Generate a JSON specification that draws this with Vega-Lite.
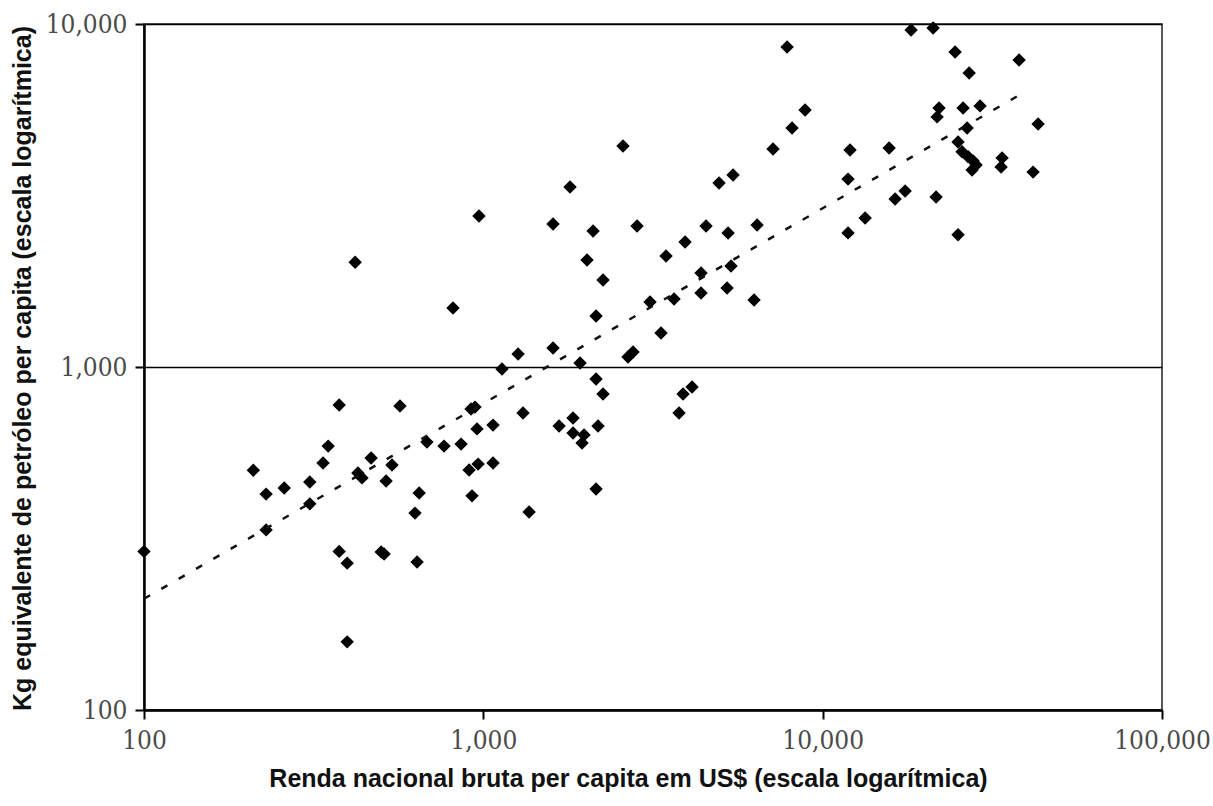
{
  "$schema": "https://vega.github.io/schema/vega-lite/v6.json",
  "width": 1018,
  "height": 686,
  "autosize": "none",
  "padding": {"left": 144, "top": 24, "right": 51, "bottom": 96},
  "background": "white",
  "config": {
    "view": {"stroke": "#222222", "strokeWidth": 1.5},
    "axis": {
      "labelFont": "DejaVu Serif Condensed, DejaVu Serif",
      "labelFontSize": 26,
      "labelColor": "#4a4a4a",
      "titleFont": "Liberation Sans",
      "titleFontWeight": "bold",
      "titleFontSize": 25,
      "titleColor": "#111111",
      "domainColor": "#000000",
      "domainWidth": 2.5,
      "tickColor": "#000000",
      "tickWidth": 2,
      "tickSize": 9,
      "labelFlush": false,
      "labelOverlap": false
    }
  },
  "layer": [
    {
      "data": {
        "values": [
          {"gni": 100, "energy": 290},
          {"gni": 210, "energy": 500},
          {"gni": 229, "energy": 426},
          {"gni": 229, "energy": 335},
          {"gni": 259, "energy": 444},
          {"gni": 308, "energy": 462},
          {"gni": 308, "energy": 399},
          {"gni": 337, "energy": 525},
          {"gni": 349, "energy": 588},
          {"gni": 376, "energy": 775},
          {"gni": 376, "energy": 290},
          {"gni": 397, "energy": 268},
          {"gni": 397, "energy": 158},
          {"gni": 419, "energy": 2020},
          {"gni": 427, "energy": 491},
          {"gni": 439, "energy": 475},
          {"gni": 467, "energy": 543},
          {"gni": 500, "energy": 289},
          {"gni": 510, "energy": 285},
          {"gni": 517, "energy": 465},
          {"gni": 538, "energy": 518},
          {"gni": 568, "energy": 770},
          {"gni": 629, "energy": 375},
          {"gni": 647, "energy": 429},
          {"gni": 638, "energy": 270},
          {"gni": 682, "energy": 604},
          {"gni": 766, "energy": 588},
          {"gni": 860, "energy": 596},
          {"gni": 814, "energy": 1486},
          {"gni": 908, "energy": 501},
          {"gni": 965, "energy": 521},
          {"gni": 926, "energy": 421},
          {"gni": 920, "energy": 754},
          {"gni": 945, "energy": 764},
          {"gni": 958, "energy": 660},
          {"gni": 1068, "energy": 677},
          {"gni": 1068, "energy": 525},
          {"gni": 971, "energy": 2755},
          {"gni": 1135, "energy": 987},
          {"gni": 1266, "energy": 1091},
          {"gni": 1309, "energy": 734},
          {"gni": 1364, "energy": 378},
          {"gni": 1605, "energy": 1136},
          {"gni": 1605, "energy": 2612},
          {"gni": 1672, "energy": 673},
          {"gni": 1801, "energy": 3348},
          {"gni": 1838, "energy": 710},
          {"gni": 1838, "energy": 642},
          {"gni": 1981, "energy": 634},
          {"gni": 1954, "energy": 600},
          {"gni": 1928, "energy": 1027},
          {"gni": 2021, "energy": 2051},
          {"gni": 2106, "energy": 2492},
          {"gni": 2149, "energy": 1408},
          {"gni": 2149, "energy": 923},
          {"gni": 2178, "energy": 673},
          {"gni": 2149, "energy": 441},
          {"gni": 2253, "energy": 834},
          {"gni": 2253, "energy": 1793},
          {"gni": 2580, "energy": 4410},
          {"gni": 2669, "energy": 1070},
          {"gni": 2762, "energy": 1106},
          {"gni": 2838, "energy": 2577},
          {"gni": 3099, "energy": 1547},
          {"gni": 3339, "energy": 1256},
          {"gni": 3455, "energy": 2107},
          {"gni": 3648, "energy": 1579},
          {"gni": 3774, "energy": 734},
          {"gni": 3878, "energy": 834},
          {"gni": 4122, "energy": 874},
          {"gni": 3931, "energy": 2314},
          {"gni": 4381, "energy": 1879},
          {"gni": 4381, "energy": 1643},
          {"gni": 4533, "energy": 2577},
          {"gni": 4951, "energy": 3439},
          {"gni": 5444, "energy": 3628},
          {"gni": 5228, "energy": 1699},
          {"gni": 5370, "energy": 1970},
          {"gni": 5264, "energy": 2459},
          {"gni": 6278, "energy": 1568},
          {"gni": 6408, "energy": 2594},
          {"gni": 7140, "energy": 4321},
          {"gni": 7855, "energy": 8570},
          {"gni": 8124, "energy": 4975},
          {"gni": 8874, "energy": 5614},
          {"gni": 11880, "energy": 2460},
          {"gni": 11880, "energy": 3530},
          {"gni": 12040, "energy": 4290},
          {"gni": 13340, "energy": 2720},
          {"gni": 15700, "energy": 4350},
          {"gni": 16350, "energy": 3090},
          {"gni": 17500, "energy": 3260},
          {"gni": 18220, "energy": 9600},
          {"gni": 21160, "energy": 9740},
          {"gni": 21590, "energy": 3130},
          {"gni": 21740, "energy": 5360},
          {"gni": 22030, "energy": 5690},
          {"gni": 24560, "energy": 8290},
          {"gni": 25060, "energy": 2430},
          {"gni": 25060, "energy": 4530},
          {"gni": 25930, "energy": 5690},
          {"gni": 25750, "energy": 4240},
          {"gni": 26650, "energy": 4975},
          {"gni": 26830, "energy": 4100},
          {"gni": 27020, "energy": 7200},
          {"gni": 27750, "energy": 3990},
          {"gni": 28320, "energy": 3880},
          {"gni": 27560, "energy": 3750},
          {"gni": 29100, "energy": 5770},
          {"gni": 33790, "energy": 4070},
          {"gni": 33560, "energy": 3830},
          {"gni": 37920, "energy": 7850},
          {"gni": 41700, "energy": 3700},
          {"gni": 43140, "energy": 5110}
        ]
      },
      "mark": {"type": "point", "shape": "diamond", "filled": true, "color": "#000000", "opacity": 1, "size": 180},
      "encoding": {
        "x": {
          "field": "gni",
          "type": "quantitative",
          "scale": {"type": "log", "domain": [100, 100000], "nice": false},
          "axis": {
            "values": [100, 1000, 10000, 100000],
            "format": ",d",
            "grid": false,
            "labelPadding": 8,
            "title": "Renda nacional bruta per capita em US$ (escala logarítmica)",
            "titleX": 484,
            "titleY": 68,
            "titleAlign": "center",
            "titleBaseline": "middle"
          }
        },
        "y": {
          "field": "energy",
          "type": "quantitative",
          "scale": {"type": "log", "domain": [100, 10000], "nice": false},
          "axis": {
            "values": [100, 1000, 10000],
            "format": ",d",
            "grid": true,
            "gridColor": "#000000",
            "gridWidth": 1.5,
            "gridOpacity": 1,
            "labelPadding": 8,
            "title": "Kg equivalente de petróleo per capita (escala logarítmica)",
            "titleX": -122,
            "titleY": 344,
            "titleAngle": -90,
            "titleAlign": "center",
            "titleBaseline": "middle"
          }
        }
      }
    },
    {
      "data": {
        "values": [
          {"gni": 100, "energy": 211},
          {"gni": 39000, "energy": 6300}
        ]
      },
      "mark": {"type": "line", "color": "#111111", "strokeWidth": 2.5, "strokeDash": [7, 13]},
      "encoding": {
        "x": {"field": "gni", "type": "quantitative"},
        "y": {"field": "energy", "type": "quantitative"}
      }
    }
  ]
}
